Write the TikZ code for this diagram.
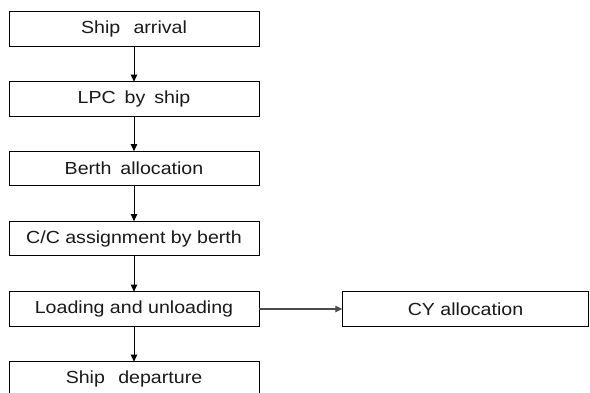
\documentclass[tikz,border=0pt]{standalone}
\usepackage{fontspec}
\setmainfont{Liberation Sans}[FakeStretch=1.12]
\usetikzlibrary{arrows.meta}
\begin{document}
\begin{tikzpicture}[x=1pt,y=-1pt,
  stepbox/.style={draw=black,line width=1pt,fill=white,minimum width=250pt,minimum height=34.8pt,
    inner sep=0pt,outer sep=0pt,font=\fontsize{17.5}{21}\selectfont,text=black!90},
  flow/.style={draw=black,line width=1pt,-{Triangle[length=7pt,width=6.5pt]}}]
\useasboundingbox (0,0) rectangle (590,392);
\clip (0,0) rectangle (590,392);
\fill[white] (0,0) rectangle (590,392);
\node[stepbox] (a) at (134,29) {Ship\hspace{0.45em} arrival};
\node[stepbox] (b) at (134,99) {LPC\hspace{0.2em} by\hspace{0.2em} ship};
\node[stepbox] (c) at (134,168.5) {Berth\hspace{0.2em} allocation};
\node[stepbox] (d) at (134,238.5) {C/C assignment by berth};
\node[stepbox] (e) at (134,309) {Loading and unloading};
\node[stepbox] (f) at (134,379) {Ship\hspace{0.45em} departure};
\node[stepbox,minimum width=246.5pt] (g) at (465.5,309) {CY allocation};
\draw[flow] (a) -- (b);
\draw[flow] (b) -- (c);
\draw[flow] (c) -- (d);
\draw[flow] (d) -- (e);
\draw[flow] (e) -- (f);
\draw[flow,draw=black!70,line width=1.3pt] (e) -- (g);
\end{tikzpicture}
\end{document}
